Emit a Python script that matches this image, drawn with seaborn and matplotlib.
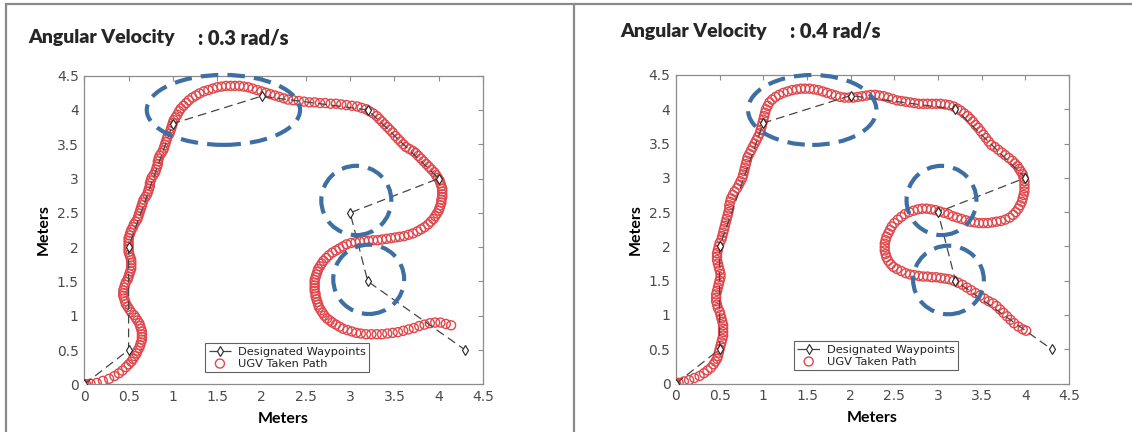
import numpy as np
import pandas as pd
import seaborn as sns
import matplotlib.pyplot as plt
from matplotlib.patches import Ellipse
from matplotlib.lines import Line2D

# ---------------------------------------------------------------- data
waypoint_x = [0.0, 0.5, 0.5, 1.0, 2.0, 3.2, 4.0, 3.0, 3.2, 4.3]
waypoint_y = [0.0, 0.5, 2.0, 3.8, 4.2, 4.0, 3.0, 2.5, 1.5, 0.5]

# UGV trajectory recorded at angular velocity 0.3 rad/s
path_03 = [
    (0.00, 0.00), (0.02, 0.00), (0.07, 0.01), (0.14, 0.02), (0.21, 0.05), (0.28, 0.08), (0.34, 0.12),
    (0.39, 0.16), (0.43, 0.20), (0.47, 0.25), (0.50, 0.29), (0.53, 0.33), (0.55, 0.37), (0.57, 0.41),
    (0.59, 0.45), (0.60, 0.49), (0.62, 0.53), (0.63, 0.57), (0.64, 0.61), (0.65, 0.65), (0.65, 0.69),
    (0.65, 0.73), (0.65, 0.77), (0.64, 0.81), (0.63, 0.85), (0.62, 0.89), (0.60, 0.93), (0.58, 0.97),
    (0.56, 1.01), (0.53, 1.05), (0.51, 1.09), (0.49, 1.13), (0.47, 1.17), (0.46, 1.21), (0.45, 1.25),
    (0.44, 1.29), (0.44, 1.33), (0.44, 1.37), (0.45, 1.41), (0.46, 1.45), (0.47, 1.49), (0.49, 1.53),
    (0.50, 1.57), (0.51, 1.61), (0.52, 1.65), (0.53, 1.69), (0.53, 1.73), (0.53, 1.77), (0.53, 1.81),
    (0.52, 1.85), (0.51, 1.89), (0.50, 1.93), (0.50, 1.97), (0.50, 2.01), (0.50, 2.05), (0.50, 2.09),
    (0.50, 2.13), (0.51, 2.17), (0.52, 2.21), (0.53, 2.25), (0.55, 2.29), (0.56, 2.33), (0.58, 2.37),
    (0.60, 2.41), (0.61, 2.45), (0.62, 2.49), (0.63, 2.53), (0.64, 2.57), (0.65, 2.61), (0.66, 2.65),
    (0.67, 2.69), (0.69, 2.73), (0.71, 2.77), (0.72, 2.81), (0.73, 2.85), (0.74, 2.89), (0.74, 2.93),
    (0.75, 2.97), (0.76, 3.01), (0.78, 3.05), (0.80, 3.09), (0.81, 3.13), (0.82, 3.17), (0.83, 3.21),
    (0.83, 3.25), (0.84, 3.29), (0.85, 3.33), (0.87, 3.37), (0.89, 3.41), (0.90, 3.45), (0.91, 3.49),
    (0.92, 3.53), (0.93, 3.57), (0.94, 3.61), (0.96, 3.65), (0.97, 3.69), (0.98, 3.73), (0.99, 3.77),
    (1.00, 3.81), (1.01, 3.85), (1.03, 3.89), (1.05, 3.93), (1.07, 3.98), (1.09, 4.02), (1.12, 4.06),
    (1.15, 4.10), (1.18, 4.14), (1.22, 4.18), (1.26, 4.21), (1.30, 4.24), (1.35, 4.27), (1.40, 4.29),
    (1.45, 4.31), (1.50, 4.33), (1.55, 4.34), (1.60, 4.35), (1.65, 4.35), (1.70, 4.35), (1.75, 4.35),
    (1.80, 4.34), (1.85, 4.33), (1.90, 4.31), (1.95, 4.29), (2.00, 4.27), (2.05, 4.25), (2.10, 4.23),
    (2.15, 4.21), (2.20, 4.19), (2.25, 4.17), (2.30, 4.15), (2.36, 4.14), (2.42, 4.13), (2.48, 4.12),
    (2.54, 4.11), (2.60, 4.11), (2.66, 4.10), (2.72, 4.10), (2.78, 4.09), (2.84, 4.09), (2.90, 4.08),
    (2.96, 4.07), (3.02, 4.06), (3.08, 4.05), (3.13, 4.03), (3.18, 4.01), (3.22, 3.98), (3.26, 3.95),
    (3.30, 3.91), (3.33, 3.87), (3.36, 3.83), (3.39, 3.79), (3.42, 3.75), (3.45, 3.71), (3.48, 3.67),
    (3.51, 3.62), (3.54, 3.58), (3.57, 3.54), (3.60, 3.50), (3.63, 3.46), (3.67, 3.43), (3.71, 3.40),
    (3.74, 3.37), (3.77, 3.33), (3.80, 3.29), (3.83, 3.25), (3.86, 3.21), (3.89, 3.17), (3.92, 3.13),
    (3.95, 3.09), (3.97, 3.05), (3.99, 3.01), (4.01, 2.97), (4.02, 2.93), (4.03, 2.89), (4.04, 2.85),
    (4.04, 2.81), (4.04, 2.77), (4.04, 2.73), (4.03, 2.69), (4.03, 2.65), (4.02, 2.61), (4.01, 2.57),
    (4.00, 2.53), (3.98, 2.49), (3.96, 2.45), (3.94, 2.41), (3.91, 2.37), (3.88, 2.33), (3.84, 2.29),
    (3.80, 2.26), (3.76, 2.23), (3.71, 2.20), (3.66, 2.18), (3.61, 2.16), (3.56, 2.15), (3.51, 2.14),
    (3.46, 2.13), (3.41, 2.12), (3.36, 2.11), (3.31, 2.10), (3.26, 2.10), (3.21, 2.09), (3.16, 2.09),
    (3.11, 2.08), (3.06, 2.07), (3.01, 2.06), (2.96, 2.04), (2.92, 2.01), (2.88, 1.98), (2.84, 1.95),
    (2.80, 1.92), (2.76, 1.88), (2.73, 1.84), (2.70, 1.80), (2.68, 1.76), (2.66, 1.72), (2.64, 1.68),
    (2.63, 1.64), (2.62, 1.60), (2.61, 1.56), (2.60, 1.52), (2.60, 1.48), (2.60, 1.44), (2.60, 1.40),
    (2.60, 1.36), (2.61, 1.32), (2.61, 1.28), (2.62, 1.24), (2.63, 1.20), (2.64, 1.16), (2.65, 1.12),
    (2.67, 1.08), (2.69, 1.04), (2.71, 1.00), (2.74, 0.96), (2.77, 0.93), (2.80, 0.90), (2.84, 0.87),
    (2.88, 0.84), (2.92, 0.81), (2.97, 0.79), (3.02, 0.77), (3.07, 0.75), (3.12, 0.74), (3.18, 0.73),
    (3.24, 0.73), (3.30, 0.73), (3.36, 0.73), (3.42, 0.74), (3.48, 0.75), (3.54, 0.76), (3.60, 0.78),
    (3.66, 0.80), (3.72, 0.82), (3.78, 0.85), (3.84, 0.87), (3.90, 0.89), (3.96, 0.90), (4.02, 0.90),
    (4.08, 0.88), (4.14, 0.86),
]

# UGV trajectory recorded at angular velocity 0.4 rad/s
path_04 = [
    (0.00, 0.00), (0.03, 0.01), (0.09, 0.03), (0.15, 0.05), (0.21, 0.08), (0.27, 0.11), (0.32, 0.15),
    (0.36, 0.19), (0.40, 0.23), (0.43, 0.28), (0.45, 0.32), (0.47, 0.36), (0.48, 0.40), (0.49, 0.45),
    (0.50, 0.50), (0.51, 0.55), (0.52, 0.60), (0.53, 0.65), (0.54, 0.70), (0.54, 0.75), (0.54, 0.80),
    (0.54, 0.85), (0.53, 0.90), (0.52, 0.95), (0.51, 1.00), (0.50, 1.05), (0.48, 1.10), (0.47, 1.15),
    (0.46, 1.20), (0.46, 1.25), (0.46, 1.30), (0.47, 1.35), (0.48, 1.40), (0.49, 1.45), (0.50, 1.50),
    (0.51, 1.55), (0.51, 1.60), (0.50, 1.65), (0.49, 1.70), (0.48, 1.75), (0.47, 1.80), (0.47, 1.85),
    (0.47, 1.90), (0.48, 1.95), (0.49, 2.00), (0.50, 2.05), (0.52, 2.10), (0.53, 2.15), (0.54, 2.20),
    (0.55, 2.25), (0.56, 2.30), (0.57, 2.35), (0.58, 2.40), (0.59, 2.45), (0.60, 2.50), (0.61, 2.55),
    (0.61, 2.60), (0.62, 2.65), (0.63, 2.70), (0.65, 2.75), (0.67, 2.80), (0.70, 2.85), (0.72, 2.90),
    (0.74, 2.95), (0.76, 3.00), (0.77, 3.05), (0.78, 3.10), (0.79, 3.15), (0.80, 3.20), (0.81, 3.25),
    (0.82, 3.30), (0.84, 3.35), (0.86, 3.40), (0.88, 3.45), (0.90, 3.50), (0.92, 3.55), (0.94, 3.60),
    (0.96, 3.65), (0.97, 3.70), (0.98, 3.75), (0.99, 3.80), (1.00, 3.85), (1.01, 3.90), (1.02, 3.95),
    (1.03, 4.00), (1.05, 4.05), (1.07, 4.10), (1.10, 4.14), (1.14, 4.18), (1.18, 4.21), (1.23, 4.24),
    (1.28, 4.26), (1.33, 4.28), (1.38, 4.29), (1.43, 4.30), (1.48, 4.30), (1.53, 4.30), (1.58, 4.29),
    (1.63, 4.28), (1.68, 4.26), (1.73, 4.24), (1.78, 4.22), (1.83, 4.20), (1.88, 4.18), (1.93, 4.17),
    (1.98, 4.17), (2.03, 4.17), (2.08, 4.18), (2.13, 4.19), (2.18, 4.20), (2.23, 4.21), (2.28, 4.21),
    (2.33, 4.20), (2.38, 4.19), (2.43, 4.17), (2.48, 4.15), (2.53, 4.13), (2.58, 4.12), (2.63, 4.11),
    (2.68, 4.10), (2.73, 4.09), (2.78, 4.08), (2.83, 4.08), (2.88, 4.08), (2.93, 4.08), (2.98, 4.08),
    (3.03, 4.08), (3.08, 4.07), (3.13, 4.06), (3.18, 4.04), (3.22, 4.01), (3.26, 3.98), (3.30, 3.94),
    (3.34, 3.90), (3.37, 3.86), (3.40, 3.82), (3.43, 3.77), (3.46, 3.73), (3.49, 3.68), (3.52, 3.63),
    (3.55, 3.58), (3.58, 3.53), (3.61, 3.48), (3.65, 3.45), (3.69, 3.41), (3.73, 3.37), (3.77, 3.33),
    (3.81, 3.29), (3.85, 3.25), (3.88, 3.21), (3.91, 3.17), (3.93, 3.13), (3.95, 3.09), (3.97, 3.05),
    (3.98, 3.00), (3.99, 2.95), (3.99, 2.90), (3.99, 2.85), (3.99, 2.80), (3.98, 2.75), (3.97, 2.70),
    (3.96, 2.65), (3.94, 2.60), (3.92, 2.55), (3.89, 2.50), (3.86, 2.46), (3.82, 2.42), (3.77, 2.39),
    (3.72, 2.37), (3.67, 2.36), (3.62, 2.35), (3.57, 2.34), (3.52, 2.34), (3.47, 2.34), (3.42, 2.35),
    (3.37, 2.36), (3.32, 2.38), (3.27, 2.40), (3.22, 2.42), (3.17, 2.44), (3.12, 2.47), (3.07, 2.49),
    (3.02, 2.51), (2.97, 2.53), (2.92, 2.54), (2.87, 2.55), (2.82, 2.55), (2.77, 2.54), (2.72, 2.52),
    (2.67, 2.50), (2.62, 2.47), (2.58, 2.43), (2.54, 2.39), (2.50, 2.34), (2.47, 2.29), (2.45, 2.24),
    (2.43, 2.19), (2.41, 2.14), (2.40, 2.09), (2.39, 2.04), (2.39, 1.99), (2.39, 1.94), (2.40, 1.89),
    (2.41, 1.84), (2.43, 1.79), (2.46, 1.74), (2.49, 1.70), (2.53, 1.67), (2.58, 1.64), (2.63, 1.61),
    (2.68, 1.59), (2.73, 1.58), (2.78, 1.57), (2.83, 1.56), (2.88, 1.56), (2.93, 1.55), (2.98, 1.55),
    (3.03, 1.54), (3.08, 1.53), (3.13, 1.52), (3.18, 1.50), (3.23, 1.47), (3.28, 1.44), (3.33, 1.40),
    (3.38, 1.36), (3.43, 1.32), (3.48, 1.28), (3.53, 1.24), (3.58, 1.20), (3.63, 1.17), (3.67, 1.13),
    (3.71, 1.08), (3.75, 1.03), (3.79, 0.98), (3.83, 0.93), (3.87, 0.88), (3.92, 0.83), (3.97, 0.79),
    (4.01, 0.77),
]

# regions of interest highlighted on each run: (center x, center y, width, height)
highlights_03 = [(1.57, 4.00, 1.73, 1.02), (3.07, 2.68, 0.79, 1.01), (3.21, 1.53, 0.80, 1.01)]
highlights_04 = [(1.56, 3.99, 1.47, 1.02), (3.04, 2.67, 0.80, 1.01), (3.12, 1.51, 0.81, 1.00)]

tick_values = [0, 0.5, 1, 1.5, 2, 2.5, 3, 3.5, 4, 4.5]
tick_labels = ["0", "0.5", "1", "1.5", "2", "2.5", "3", "3.5", "4", "4.5"]

panel_titles = ["Angular Velocity", "Angular Velocity"]
panel_values = [": 0.3 rad/s", ": 0.4 rad/s"]

# ---------------------------------------------------------------- style
sns.set_theme(style="white")
plt.rcParams["font.family"] = ["DejaVu Sans"]

AXIS_GRAY = "#8c8c8c"
LABEL_GRAY = "#4a4a4a"
PATH_RED = "#e0474c"
RING_BLUE = "#3d6fa3"
HEAD_FONT = ["Lato", "DejaVu Sans"]

fig = plt.figure(figsize=(11.32, 4.32), dpi=100)

axes_rects = [
    [84.3 / 1132, (432 - 384.3) / 432, 398.7 / 1132, 308.7 / 432],
    [676.0 / 1132, (432 - 383.5) / 432, 393.0 / 1132, 308.5 / 432],
]
legend_anchor = [(0.303, 0.040), (0.300, 0.044)]
paths = [path_03, path_04]
highlights = [highlights_03, highlights_04]

wp = pd.DataFrame({"x": waypoint_x, "y": waypoint_y, "order": range(len(waypoint_x))})

for i in range(2):
    ax = fig.add_axes(axes_rects[i])
    px, py = zip(*paths[i])
    run = pd.DataFrame({"x": px, "y": py})

    sns.scatterplot(data=run, x="x", y="y", ax=ax, marker="o", s=42,
                    facecolors="none", edgecolor=PATH_RED, linewidth=1.0,
                    label="UGV Taken Path", zorder=3)
    sns.lineplot(data=wp, x="x", y="y", ax=ax, sort=False, estimator=None,
                 color="#454545", linewidth=0.9, dashes=False, linestyle=(0, (7, 4)),
                 marker="d", markersize=5.5, markerfacecolor="white",
                 markeredgecolor="#222222", markeredgewidth=0.8,
                 label="Designated Waypoints", zorder=4)

    for cx, cy, w, h in highlights[i]:
        ax.add_patch(Ellipse((cx, cy), w, h, fill=False, edgecolor=RING_BLUE,
                             linewidth=3.0, linestyle=(0, (4.2, 2.2)),
                             zorder=5, clip_on=False))

    ax.set_xlim(0, 4.5)
    ax.set_ylim(0, 4.5)
    ax.set_xticks(tick_values)
    ax.set_yticks(tick_values)
    ax.set_xticklabels(tick_labels)
    ax.set_yticklabels(tick_labels)
    ax.tick_params(direction="in", top=True, right=True, length=3.5, width=0.8,
                   color=AXIS_GRAY, labelcolor=LABEL_GRAY, labelsize=10, pad=4)
    for sp in ax.spines.values():
        sp.set_color(AXIS_GRAY)
        sp.set_linewidth(0.9)

    ax.set_xlabel("Meters", fontsize=11.5, fontweight="bold", color="black",
                  family=HEAD_FONT, labelpad=6)
    ax.set_ylabel("Meters", fontsize=11.5, fontweight="bold", color="black",
                  family=HEAD_FONT, labelpad=4)

    handles, labels = ax.get_legend_handles_labels()
    order = [labels.index("Designated Waypoints"), labels.index("UGV Taken Path")]
    leg = ax.legend([handles[k] for k in order], [labels[k] for k in order],
                    loc="lower left", bbox_to_anchor=legend_anchor[i],
                    borderaxespad=0, fontsize=8.2, frameon=True, fancybox=False,
                    edgecolor="#3a3a3a", handlelength=2.0, handletextpad=0.6,
                    borderpad=0.3, labelspacing=0.15, labelcolor="#222222")
    leg.get_frame().set_linewidth(0.8)

# panel headings
for x0, x1, yc, t, v in [(28, 198, 38, panel_titles[0], panel_values[0]),
                         (620, 790, 31, panel_titles[1], panel_values[1])]:
    fig.text(x0 / 1132, 1 - yc / 432, t, fontsize=14, fontweight="heavy",
             family=HEAD_FONT, va="center", ha="left")
    fig.text(x1 / 1132, 1 - yc / 432, v, fontsize=14.5, fontweight="heavy",
             family=HEAD_FONT, va="center", ha="left")

# panel frame
frame_kw = dict(color="#8a8a8a", linewidth=1.6, transform=fig.transFigure)
fig.add_artist(Line2D([6 / 1132, 1], [1 - 4 / 432, 1 - 4 / 432], **frame_kw))
fig.add_artist(Line2D([6 / 1132, 6 / 1132], [0, 1 - 4 / 432], **frame_kw))
fig.add_artist(Line2D([574 / 1132, 574 / 1132], [0, 1 - 4 / 432], **frame_kw))

fig.savefig("out.png", dpi=100)
